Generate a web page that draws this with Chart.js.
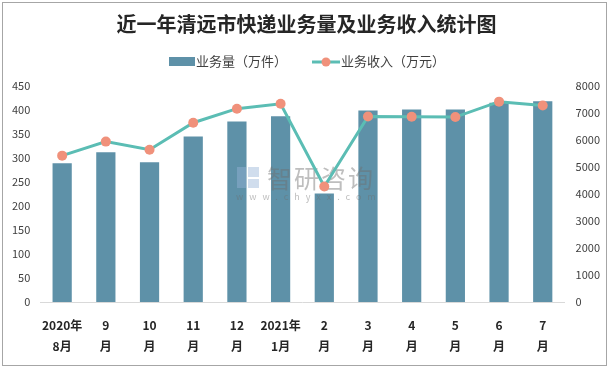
<!DOCTYPE html>
<html>
<head>
<meta charset="utf-8">
<script src="https://cdn.jsdelivr.net/npm/chart.js@4"></script>
<style>
  html, body { margin: 0; padding: 0; background: #fff; }
  #wrap { position: relative; width: 611px; height: 369px; }
  #frame { position: absolute; left: 2px; top: 2px; width: 603px; height: 362px; border: 1px solid #a6a6a6; pointer-events: none; }
</style>
</head>
<body>
<div id="wrap">
  <canvas id="chart" width="611" height="369"></canvas>
  <div id="frame"></div>
</div>
<script>
const months = [['2020年', '8月'], ['9', '月'], ['10', '月'], ['11', '月'], ['12', '月'], ['2021年', '1月'],
    ['2', '月'], ['3', '月'], ['4', '月'], ['5', '月'], ['6', '月'], ['7', '月']];
const volume = [289, 312, 291, 345, 376, 387, 226, 399, 401, 401, 415, 418];
const revenue = [5420, 5940, 5640, 6640, 7160, 7340, 4280, 6870, 6860, 6850, 7420, 7280];

const barColor = '#5e91a8';
const lineColor = '#5bbdb4';
const dotColor = '#f0917b';
const font = '"Noto Sans CJK SC", "Noto Sans", sans-serif';

// legend drawn by hand, watermark between bars and line
const extras = {
    id: 'extras',
    afterDatasetDraw(c, args) {
        if (args.index !== 1) return;
        const ctx = c.ctx;
        ctx.save();
        ctx.textBaseline = 'middle';
        ctx.fillStyle = 'rgba(150,180,215,0.45)';
        ctx.fillRect(237, 167, 9, 21);
        ctx.fillRect(248, 167, 11, 10);
        ctx.fillRect(248, 179, 11, 9);
        ctx.fillStyle = 'rgba(110,110,110,0.45)';
        ctx.font = '25px ' + font;
        ctx.letterSpacing = '2px';
        ctx.fillText('智研咨询', 267, 178);
        ctx.font = '9px ' + font;
        ctx.letterSpacing = '6px';
        ctx.fillText('www.chyxx.com', 236, 197);
        ctx.restore();
    },
    afterDraw(c) {
        const ctx = c.ctx;
        ctx.save();
        ctx.font = '13px ' + font;
        ctx.textBaseline = 'middle';
        const y = 61;
        ctx.fillStyle = barColor;
        ctx.fillRect(169, y - 4, 26, 9);
        ctx.fillStyle = '#404040';
        ctx.fillText('业务量（万件）', 196, y);
        ctx.strokeStyle = lineColor;
        ctx.lineWidth = 3;
        ctx.beginPath();
        ctx.moveTo(312, y + 1);
        ctx.lineTo(340, y + 1);
        ctx.stroke();
        ctx.fillStyle = dotColor;
        ctx.beginPath();
        ctx.arc(326, y + 1, 4.5, 0, Math.PI * 2);
        ctx.fill();
        ctx.fillStyle = '#404040';
        ctx.fillText('业务收入（万元）', 341, y);
        ctx.restore();
    }
};

new Chart(document.getElementById('chart'), {
    data: {
        labels: months,
        datasets: [
            {
                type: 'line', label: '业务收入（万元）', data: revenue, yAxisID: 'y1',
                borderColor: lineColor, borderWidth: 3, pointRadius: 5,
                pointBackgroundColor: dotColor, pointBorderWidth: 0, order: 0
            },
            {
                type: 'bar', label: '业务量（万件）', data: volume, yAxisID: 'y',
                backgroundColor: barColor, barPercentage: 0.44, categoryPercentage: 1, order: 1
            }
        ]
    },
    options: {
        responsive: false,
        animation: false,
        layout: { padding: { left: 10, right: 8, bottom: 7 } },
        plugins: {
            legend: { display: false },
            tooltip: { enabled: false },
            title: {
                display: true, text: '近一年清远市快递业务量及业务收入统计图',
                color: '#262626', font: { family: font, size: 20, weight: 'bold' },
                padding: { top: 12, bottom: 50 }
            }
        },
        scales: {
            x: {
                grid: { display: false },
                border: { color: '#d9d9d9' },
                ticks: {
                    color: '#262626', maxRotation: 0, autoSkip: false, padding: 5,
                    font: { family: font, size: 12, weight: 'bold', lineHeight: 1.75 }
                }
            },
            y: {
                position: 'left', min: 0, max: 450,
                grid: { display: false }, border: { display: false },
                ticks: { stepSize: 50, color: '#404040', padding: 2, font: { family: font, size: 11 } }
            },
            y1: {
                position: 'right', min: 0, max: 8000,
                grid: { display: false }, border: { display: false },
                ticks: {
                    stepSize: 1000, color: '#404040', padding: 3, font: { family: font, size: 11 },
                    callback: v => String(v)
                }
            }
        }
    },
    plugins: [extras]
});
</script>
</body>
</html>
